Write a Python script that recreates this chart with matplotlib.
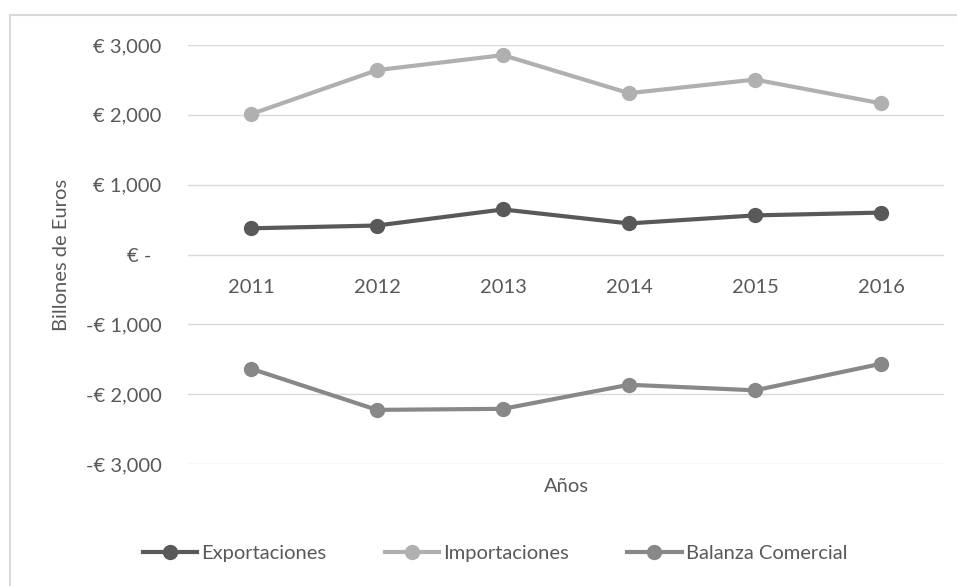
import numpy as np
import matplotlib
matplotlib.use("Agg")
import matplotlib.pyplot as plt
from matplotlib.lines import Line2D

# datos (billones de euros)
years = ["2011", "2012", "2013", "2014", "2015", "2016"]
exportaciones = [375, 415, 645, 445, 560, 600]
importaciones = [2010, 2640, 2855, 2310, 2505, 2165]
balanza = [-1635, -2225, -2210, -1865, -1945, -1565]

yticks = [3000, 2000, 1000, 0, -1000, -2000, -3000]
ytick_labels = ["€ 3,000", "€ 2,000", "€ 1,000", "€ -  ", "-€ 1,000", "-€ 2,000", "-€ 3,000"]

txt = "#595959"
fs = 14.5
plt.rcParams['font.family'] = ['Lato', 'DejaVu Sans']

fig = plt.figure(figsize=(9.57, 5.86), dpi=100)
ax = fig.add_axes([188/957, 1-464/586, (944-188)/957, 419/586])

x = np.arange(len(years))
series = [("Exportaciones", exportaciones, "#595959"),
          ("Importaciones", importaciones, "#b0b0b0"),
          ("Balanza Comercial", balanza, "#888888")]
for name, vals, c in series:
    ax.plot(x, vals, color=c, lw=3, marker="o", markersize=10, label=name,
            solid_capstyle="round", zorder=3)

ax.set_xlim(-0.5, 5.5)
ax.set_ylim(-3000, 3000)
ax.set_yticks(yticks)
ax.set_yticklabels(ytick_labels, fontsize=fs, color=txt)
ax.tick_params(axis="y", length=0, pad=19)
ax.set_xticks([])
for i, yr in enumerate(years):
    ax.text(i, -470, yr, ha="center", va="center", fontsize=fs, color=txt)

ax.grid(axis="y", color="#d9d9d9", lw=1)
ax.set_axisbelow(True)
for s in ax.spines.values():
    s.set_visible(False)

ax.set_ylabel("Billones de Euros", fontsize=fs, color=txt)
ax.yaxis.set_label_coords(-118/756, 0.5)
fig.text(566/957, 1-487/586, "Años", ha="center", va="center", fontsize=fs, color=txt)

# leyenda
handles = [Line2D([], [], color=c, lw=3, marker="o", markersize=10) for _, _, c in series]
fig.legend(handles, [s[0] for s in series], loc="center", bbox_to_anchor=(495/957, 1-553/586),
           ncol=3, frameon=False, fontsize=fs, labelcolor=txt, handlelength=2.7,
           handletextpad=0.2, columnspacing=2.9)

# borde del area del grafico
fig.add_artist(Line2D([10/957, 10/957], [0, 1-15/586], color="#d9d9d9", lw=1.5))
fig.add_artist(Line2D([10/957, 1], [1-15/586, 1-15/586], color="#d9d9d9", lw=1.5))

fig.savefig("out.png", dpi=100)
